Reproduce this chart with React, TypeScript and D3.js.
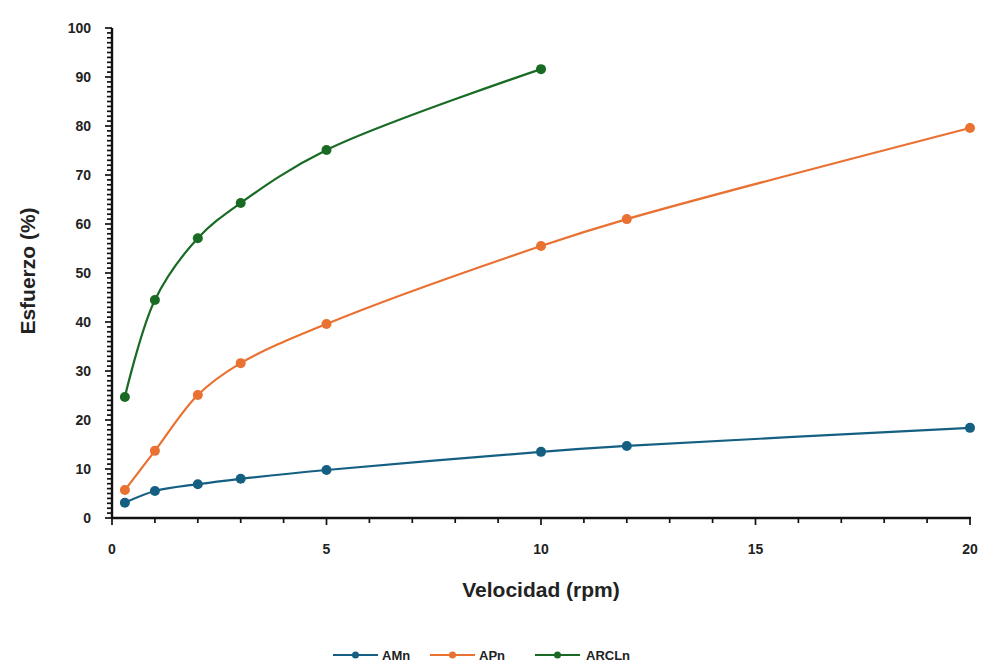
import React from "react";
import * as d3 from "d3";

const xAMn = [0.3, 1, 2, 3, 5, 10, 12, 20];
const yAMn = [3.1, 5.5, 6.9, 8, 9.8, 13.5, 14.7, 18.4];
const xAPn = [0.3, 1, 2, 3, 5, 10, 12, 20];
const yAPn = [5.7, 13.7, 25.1, 31.6, 39.6, 55.5, 61, 79.6];
const xARCLn = [0.3, 1, 2, 3, 5, 10];
const yARCLn = [24.7, 44.5, 57.1, 64.3, 75.1, 91.6];
const xTicks = [0, 5, 10, 15, 20];
const yTicks = [0, 10, 20, 30, 40, 50, 60, 70, 80, 90, 100];
const seriesNames = ["AMn", "APn", "ARCLn"];
const seriesColors = ["#156082", "#E97132", "#196B24"];

export default function App() {
  const W = 985, H = 671;
  const x = d3.scaleLinear().domain([0, 20]).range([112, 970]);
  const y = d3.scaleLinear().domain([0, 100]).range([518, 28]);
  const series = [
    { xs: xAMn, ys: yAMn },
    { xs: xAPn, ys: yAPn },
    { xs: xARCLn, ys: yARCLn },
  ];
  const line = d3
    .line<[number, number]>()
    .x((d) => x(d[0]))
    .y((d) => y(d[1]))
    .curve(d3.curveCatmullRom.alpha(0.5));
  const minorX = d3.range(0, 21, 1);
  const minorY = d3.range(0, 101, 1);
  const font = "'Liberation Sans', Arial, sans-serif";
  const legendItems = [
    { x0: 333, tx: 382 },
    { x0: 430, tx: 479 },
    { x0: 535, tx: 586 },
  ];
  return (
    <svg width={W} height={H} style={{ position: "absolute", left: 0, top: 0, background: "#fff" }}>
      <rect x={0} y={0} width={W} height={H} fill="#fff" />
      {/* y axis */}
      <line x1={x(0)} x2={x(0)} y1={y(0) + 1} y2={y(100)} stroke="#111" strokeWidth={2.4} />
      {minorY.map((v) => (
        <line key={"my" + v} x1={x(0) - (v % 10 === 0 ? 7 : 5)} x2={x(0)} y1={y(v)} y2={y(v)} stroke="#111" strokeWidth={1.7} />
      ))}
      {yTicks.map((v) => (
        <text key={"ty" + v} x={x(0) - 21} y={y(v)} dy="0.36em" textAnchor="end" fontFamily={font} fontWeight="bold" fontSize={14} fill="#222">
          {v}
        </text>
      ))}
      {/* x axis */}
      <line x1={x(0) - 1} x2={x(20) + 1} y1={y(0)} y2={y(0)} stroke="#111" strokeWidth={2.4} />
      {minorX.map((v) => (
        <line key={"mx" + v} x1={x(v)} x2={x(v)} y1={y(0)} y2={y(0) + (v % 5 === 0 ? 7 : 5)} stroke="#111" strokeWidth={1.7} />
      ))}
      {xTicks.map((v) => (
        <text key={"tx" + v} x={x(v)} y={y(0) + 36} textAnchor="middle" fontFamily={font} fontWeight="bold" fontSize={14} fill="#222">
          {v}
        </text>
      ))}
      {/* titles */}
      <text x={x(10)} y={597} textAnchor="middle" fontFamily={font} fontWeight="bold" fontSize={21} fill="#222">
        Velocidad (rpm)
      </text>
      <text transform={`translate(35,${y(50) - 2}) rotate(-90)`} textAnchor="middle" fontFamily={font} fontWeight="bold" fontSize={21} fill="#222">
        Esfuerzo (%)
      </text>
      {/* series */}
      {series.map((s, i) => {
        const pts = s.xs.map((v, j) => [v, s.ys[j]] as [number, number]);
        return (
          <g key={"s" + i}>
            <path d={line(pts) || ""} fill="none" stroke={seriesColors[i]} strokeWidth={2.2} />
            {pts.map((p, j) => (
              <circle key={j} cx={x(p[0])} cy={y(p[1])} r={5} fill={seriesColors[i]} />
            ))}
          </g>
        );
      })}
      {/* legend */}
      {legendItems.map((l, i) => (
        <g key={"l" + i}>
          <line x1={l.x0} x2={l.x0 + 45} y1={655} y2={655} stroke={seriesColors[i]} strokeWidth={2.2} />
          <circle cx={l.x0 + 22.5} cy={655} r={3.5} fill={seriesColors[i]} />
          <text x={l.tx} y={655} dy="0.36em" fontFamily={font} fontWeight="bold" fontSize={13} fill="#222">
            {seriesNames[i]}
          </text>
        </g>
      ))}
    </svg>
  );
}
